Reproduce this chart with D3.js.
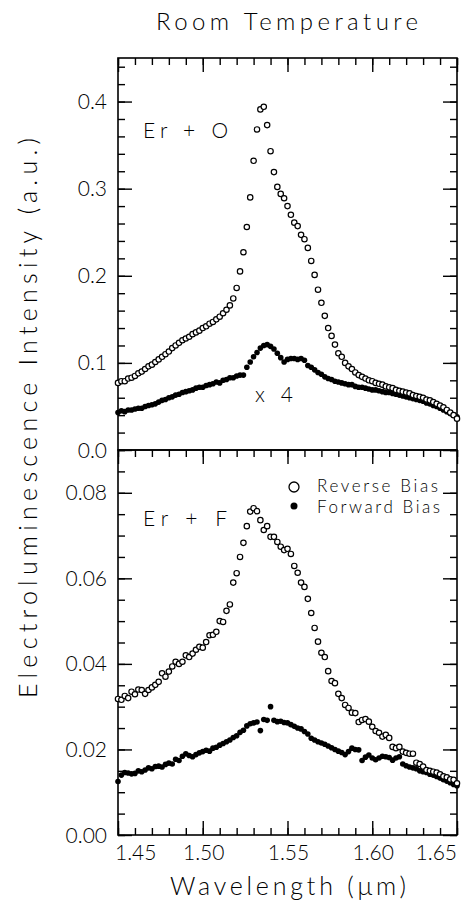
<!DOCTYPE html>
<html>
<head>
<meta charset="utf-8">
<script src="https://cdn.jsdelivr.net/npm/d3@7"></script>
<style>
  html, body { margin: 0; padding: 0; background: #fff; }
  svg { display: block; }
  text { font-family: "Lato", "DejaVu Sans", sans-serif; font-weight: 300; fill: #000; }
</style>
</head>
<body>
<svg id="chart" width="462" height="902"></svg>
<script>
// ---------------- data ----------------
const wavelength = [
  1.450,1.452,1.454,1.456,1.458,1.460,1.462,1.464,1.466,1.468,
  1.470,1.472,1.474,1.476,1.478,1.480,1.482,1.484,1.486,1.488,
  1.490,1.492,1.494,1.496,1.498,1.500,1.502,1.504,1.506,1.508,
  1.510,1.512,1.514,1.516,1.518,1.520,1.522,1.524,1.526,1.528,
  1.530,1.532,1.534,1.536,1.538,1.540,1.542,1.544,1.546,1.548,
  1.550,1.552,1.554,1.556,1.558,1.560,1.562,1.564,1.566,1.568,
  1.570,1.572,1.574,1.576,1.578,1.580,1.582,1.584,1.586,1.588,
  1.590,1.592,1.594,1.596,1.598,1.600,1.602,1.604,1.606,1.608,
  1.610,1.612,1.614,1.616,1.618,1.620,1.622,1.624,1.626,1.628,
  1.630,1.632,1.634,1.636,1.638,1.640,1.642,1.644,1.646,1.648,
  1.650
];

// Er + O, reverse bias (open circles)
const erOReverse = [
  0.077,0.079,0.079,0.082,0.083,0.085,0.088,0.090,0.093,0.096,
  0.098,0.101,0.104,0.107,0.110,0.113,0.117,0.120,0.123,0.126,
  0.128,0.130,0.133,0.135,0.137,0.140,0.142,0.145,0.147,0.150,
  0.153,0.157,0.161,0.166,0.174,0.186,0.205,0.227,0.256,0.290,
  0.332,0.368,0.391,0.394,0.373,0.343,0.319,0.302,0.294,0.289,
  0.280,0.270,0.261,0.257,0.247,0.242,0.232,0.217,0.201,0.184,
  0.169,0.154,0.140,0.131,0.121,0.111,0.107,0.100,0.096,0.093,
  0.089,0.086,0.084,0.082,0.080,0.079,0.077,0.076,0.075,0.073,
  0.072,0.071,0.069,0.068,0.067,0.066,0.065,0.063,0.062,0.061,
  0.060,0.058,0.057,0.055,0.053,0.051,0.049,0.046,0.043,0.040,
  0.036
];

// Er + O, forward bias x 4 (filled dots)
const erOForward = [
  0.043,0.045,0.044,0.046,0.046,0.047,0.048,0.048,0.050,0.051,
  0.052,0.053,0.055,0.057,0.058,0.060,0.061,0.063,0.064,0.066,
  0.067,0.068,0.069,0.071,0.072,0.072,0.074,0.075,0.076,0.078,
  0.077,0.080,0.081,0.083,0.083,0.085,0.086,0.086,0.095,0.101,
  0.107,0.112,0.117,0.120,0.121,0.119,0.116,0.111,0.106,0.101,
  0.104,0.105,0.105,0.104,0.105,0.103,0.097,0.095,0.092,0.089,
  0.087,0.084,0.082,0.081,0.079,0.078,0.077,0.076,0.075,0.075,
  0.073,0.072,0.072,0.071,0.070,0.069,0.069,0.068,0.067,0.066,
  0.066,0.065,0.064,0.063,0.062,0.061,0.060,0.059,0.058,0.057,
  0.056,0.054,0.053,0.051,0.050,0.048,0.046,0.044,0.042,0.040,
  0.038
];

// Er + F, reverse bias (open circles)
const erFReverse = [
  0.0318,0.0316,0.0325,0.0320,0.0335,0.0329,0.0340,0.0339,0.0330,0.0339,
  0.0345,0.0351,0.0358,0.0378,0.0370,0.0382,0.0394,0.0405,0.0400,0.0405,
  0.0420,0.0416,0.0424,0.0433,0.0440,0.0438,0.0451,0.0467,0.0468,0.0475,
  0.0500,0.0498,0.0524,0.0539,0.0590,0.0612,0.0650,0.0683,0.0722,0.0756,
  0.0764,0.0757,0.0736,0.0713,0.0722,0.0697,0.0697,0.0685,0.0674,0.0666,
  0.0669,0.0657,0.0629,0.0613,0.0590,0.0580,0.0552,0.0519,0.0484,0.0452,
  0.0426,0.0416,0.0383,0.0360,0.0355,0.0330,0.0320,0.0304,0.0297,0.0286,
  0.0285,0.0264,0.0269,0.0271,0.0265,0.0253,0.0243,0.0239,0.0230,0.0234,
  0.0227,0.0206,0.0203,0.0206,0.0195,0.0192,0.0190,0.0190,0.0169,0.0166,
  0.0160,0.0152,0.0150,0.0148,0.0146,0.0142,0.0137,0.0135,0.0130,0.0129,
  0.0121
];

// Er + F, forward bias (filled dots)
const erFForward = [
  0.0125,0.0140,0.0146,0.0145,0.0143,0.0144,0.0150,0.0148,0.0152,0.0157,
  0.0155,0.0160,0.0161,0.0159,0.0165,0.0168,0.0166,0.0177,0.0174,0.0184,
  0.0190,0.0186,0.0183,0.0188,0.0192,0.0195,0.0198,0.0196,0.0203,0.0205,
  0.0210,0.0214,0.0218,0.0222,0.0228,0.0232,0.0240,0.0245,0.0255,0.0260,
  0.0262,0.0264,0.0244,0.0270,0.0268,0.0300,0.0268,0.0265,0.0266,0.0263,
  0.0262,0.0258,0.0254,0.0250,0.0248,0.0242,0.0236,0.0226,0.0222,0.0218,
  0.0215,0.0212,0.0208,0.0204,0.0200,0.0196,0.0193,0.0188,0.0195,0.0203,
  0.0200,0.0199,0.0174,0.0182,0.0187,0.0180,0.0176,0.0180,0.0184,0.0183,
  0.0181,0.0175,0.0180,0.0183,0.0166,0.0162,0.0159,0.0157,0.0155,0.0150,
  0.0148,0.0146,0.0142,0.0140,0.0137,0.0133,0.0129,0.0126,0.0122,0.0118,
  0.0115
];

const xTickValues = [1.45, 1.50, 1.55, 1.60, 1.65];
const xTickLabels = ["1.45", "1.50", "1.55", "1.60", "1.65"];
const topYTickValues = [0.0, 0.1, 0.2, 0.3, 0.4];
const topYTickLabels = ["0.0", "0.1", "0.2", "0.3", "0.4"];
const botYTickValues = [0.00, 0.02, 0.04, 0.06, 0.08];
const botYTickLabels = ["0.00", "0.02", "0.04", "0.06", "0.08"];
const legendLabels = ["Reverse Bias", "Forward Bias"];

// ---------------- layout ----------------
const svg = d3.select("#chart");
const L = 118, R = 457, T = 58, MID = 450, B = 835;

const x = d3.scaleLinear().domain([1.45, 1.65]).range([L, R]);
const yTop = d3.scaleLinear().domain([0, 0.45]).range([MID, T]);
const yBot = d3.scaleLinear().domain([0, 0.09]).range([B, MID]);

const xMinor = d3.range(0, 21).map(i => 1.45 + i * 0.01);
const xMajor = d3.range(0, 5).map(i => 1.45 + i * 0.05);
const topMinor = d3.range(0, 23).map(i => i * 0.02);
const topMajor = d3.range(0, 5).map(i => i * 0.1);
const botMinor = d3.range(0, 19).map(i => i * 0.005);
const botMajor = d3.range(0, 5).map(i => i * 0.02);

function styleAxis(g) {
  g.select(".domain").remove();
  g.selectAll("line").attr("stroke", "#000").attr("stroke-width", 1.4);
  g.selectAll("text").remove();
}

[[T, "down"], [MID, "down"], [B, "up"]].forEach(([yy, dir]) => {
  const mk = (vals, len) => {
    const ax = dir === "down" ? d3.axisBottom(x) : d3.axisTop(x);
    svg.append("g").attr("transform", `translate(0,${yy})`)
      .call(ax.tickValues(vals).tickSize(len).tickFormat(""))
      .call(styleAxis);
  };
  mk(xMinor, 7);
  mk(xMajor, 14);
});

function yTicks(scale, minor, major) {
  [[L, d3.axisRight], [R, d3.axisLeft]].forEach(([xx, ax]) => {
    svg.append("g").attr("transform", `translate(${xx},0)`)
      .call(ax(scale).tickValues(minor).tickSize(7).tickFormat(""))
      .call(styleAxis);
    svg.append("g").attr("transform", `translate(${xx},0)`)
      .call(ax(scale).tickValues(major).tickSize(14).tickFormat(""))
      .call(styleAxis);
  });
}
yTicks(yTop, topMinor, topMajor);
yTicks(yBot, botMinor, botMajor);

svg.append("rect").attr("x", L).attr("y", T).attr("width", R - L).attr("height", MID - T)
  .attr("fill", "none").attr("stroke", "#000").attr("stroke-width", 1.6);
svg.append("rect").attr("x", L).attr("y", MID).attr("width", R - L).attr("height", B - MID)
  .attr("fill", "none").attr("stroke", "#000").attr("stroke-width", 1.6);

function yLabels(scale, vals, labels) {
  svg.append("g").selectAll("text").data(vals).join("text")
    .attr("x", 107).attr("y", d => scale(d)).attr("dy", "0.36em")
    .attr("text-anchor", "end").attr("font-size", 21)
    .text((d, i) => labels[i]);
}
yLabels(yTop, topYTickValues, topYTickLabels);
yLabels(yBot, botYTickValues, botYTickLabels);

svg.append("g").selectAll("text").data(xTickValues).join("text")
  .attr("x", (d, i) => i === 0 ? x(d) - 3 : (i === xTickValues.length - 1 ? x(d) : x(d) + 1))
  .attr("y", 860)
  .attr("text-anchor", (d, i) => i === 0 ? "start" : (i === xTickValues.length - 1 ? "end" : "middle"))
  .attr("font-size", 21)
  .text((d, i) => xTickLabels[i]);

svg.append("text").attr("x", 287).attr("y", 30).attr("text-anchor", "middle")
  .attr("font-size", 24).attr("textLength", 262).attr("lengthAdjust", "spacing")
  .text("Room Temperature");
svg.append("text").attr("x", 288).attr("y", 895).attr("text-anchor", "middle")
  .attr("font-size", 25).attr("textLength", 236).attr("lengthAdjust", "spacing")
  .text("Wavelength (μm)");
svg.append("text").attr("transform", "translate(37,418) rotate(-90)")
  .attr("text-anchor", "middle").attr("font-size", 25)
  .attr("textLength", 560).attr("lengthAdjust", "spacing")
  .text("Electroluminescence Intensity (a.u.)");

svg.append("text").attr("x", 143).attr("y", 138).attr("font-size", 21)
  .attr("textLength", 85).attr("lengthAdjust", "spacing").text("Er + O");
svg.append("text").attr("x", 143).attr("y", 526).attr("font-size", 21)
  .attr("textLength", 84).attr("lengthAdjust", "spacing").text("Er + F");
svg.append("text").attr("x", 255).attr("y", 402).attr("font-size", 21)
  .attr("textLength", 38).attr("lengthAdjust", "spacing").text("x 4");

function openPts(vals, scale) {
  svg.append("g").selectAll("circle").data(vals).join("circle")
    .attr("cx", (d, i) => x(wavelength[i])).attr("cy", d => scale(d))
    .attr("r", 2.7).attr("fill", "#fff").attr("stroke", "#000").attr("stroke-width", 1.2);
}
function filledPts(vals, scale) {
  svg.append("g").selectAll("circle").data(vals).join("circle")
    .attr("cx", (d, i) => x(wavelength[i])).attr("cy", d => scale(d))
    .attr("r", 2.8).attr("fill", "#000");
}
filledPts(erOForward, yTop);
openPts(erOReverse, yTop);
filledPts(erFForward, yBot);
openPts(erFReverse, yBot);

const lg = svg.append("g");
lg.append("circle").attr("cx", 294).attr("cy", 487).attr("r", 5)
  .attr("fill", "none").attr("stroke", "#000").attr("stroke-width", 1.3);
lg.append("circle").attr("cx", 294).attr("cy", 506).attr("r", 3.5).attr("fill", "#000");
lg.append("text").attr("x", 317).attr("y", 492).attr("font-size", 17)
  .attr("textLength", 121).attr("lengthAdjust", "spacing").text(legendLabels[0]);
lg.append("text").attr("x", 317).attr("y", 513).attr("font-size", 17)
  .attr("textLength", 123).attr("lengthAdjust", "spacing").text(legendLabels[1]);
</script>
</body>
</html>
